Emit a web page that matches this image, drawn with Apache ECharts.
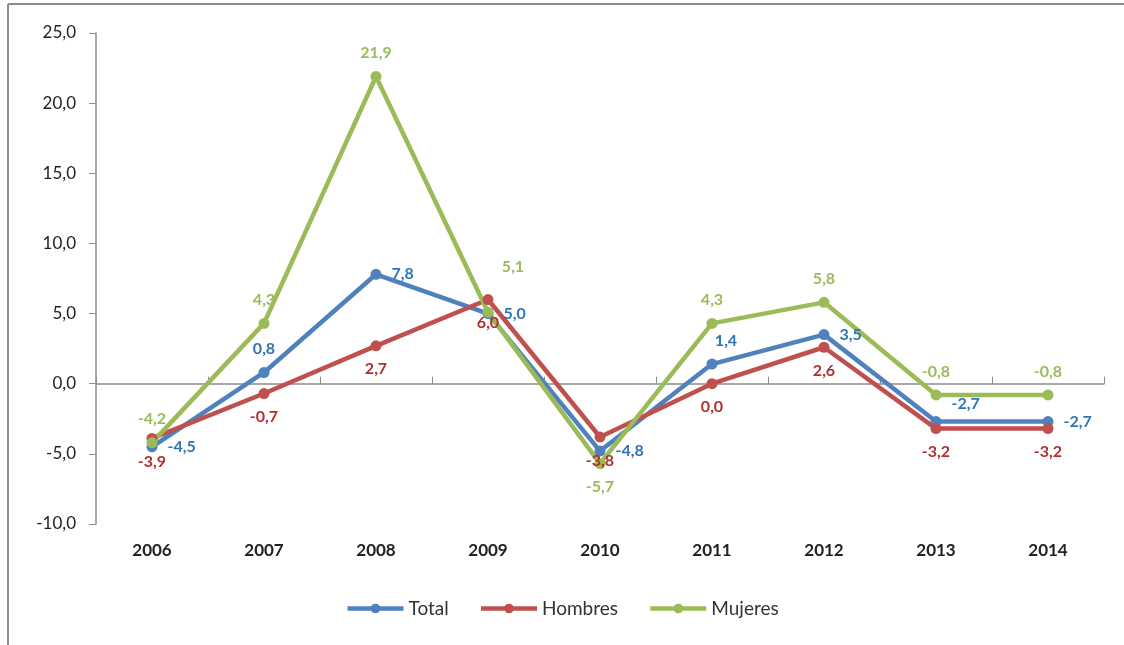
<!DOCTYPE html>
<html>
<head>
<meta charset="utf-8">
<script src="https://cdn.jsdelivr.net/npm/echarts@6/dist/echarts.min.js"></script>
<style>
  html, body { margin: 0; padding: 0; background: #fff; }
  #chart { width: 1124px; height: 645px; }
</style>
</head>
<body>
<div id="chart"></div>
<script>
// datos
var years = ['2006', '2007', '2008', '2009', '2010', '2011', '2012', '2013', '2014'];
var total = [-4.5, 0.8, 7.8, 5.0, -4.8, 1.4, 3.5, -2.7, -2.7];
var hombres = [-3.9, -0.7, 2.7, 6.0, -3.8, 0.0, 2.6, -3.2, -3.2];
var mujeres = [-4.2, 4.3, 21.9, 5.1, -5.7, 4.3, 5.8, -0.8, -0.8];

// posicion de cada etiqueta
var totalPos = ['right', 'top', 'right', 'right', 'right', 'top', 'right', 'right', 'right'];
var hombresPos = ['bottom', 'bottom', 'bottom', 'bottom', 'bottom', 'bottom', 'bottom', 'bottom', 'bottom'];
var mujeresPos = ['top', 'top', 'top', 'top', 'bottom', 'top', 'top', 'top', 'top'];

var font = 'Lato, "Open Sans", sans-serif';

function fmt(v) {
    return v.toFixed(1).replace('.', ',');
}

function buildData(values, pos, extra) {
    return values.map(function (v, i) {
        var item = { value: v, label: { position: pos[i] } };
        if (extra && extra[i]) item.label.offset = extra[i];
        return item;
    });
}

function makeSeries(name, values, pos, lineColor, labelColor, extra) {
    return {
        name: name,
        type: 'line',
        data: buildData(values, pos, extra),
        symbol: 'circle',
        symbolSize: 11,
        lineStyle: { width: 4.5, color: lineColor },
        itemStyle: { color: lineColor },
        label: {
            show: true,
            color: labelColor,
            fontFamily: font,
            fontWeight: 'bold',
            fontSize: 16,
            distance: 10,
            formatter: function (p) { return fmt(p.value); }
        }
    };
}

var chart = echarts.init(document.getElementById('chart'));
var option = {
    animation: false,
    backgroundColor: '#fff',
    graphic: [
        { type: 'line', shape: { x1: 8, y1: 4, x2: 1124, y2: 4 }, style: { stroke: '#8c8c8c', lineWidth: 2 } },
        { type: 'line', shape: { x1: 8, y1: 4, x2: 8, y2: 645 }, style: { stroke: '#8c8c8c', lineWidth: 2 } }
    ],
    grid: { left: 96, right: 20, top: 33, bottom: 121 },
    legend: {
        bottom: 22,
        left: 'center',
        itemWidth: 56,
        itemHeight: 12,
        itemGap: 30,
        lineStyle: { width: 4.5 },
        textStyle: { fontFamily: font, fontSize: 19, color: '#333' },
        data: ['Total', 'Hombres', 'Mujeres']
    },
    xAxis: [
        {
            type: 'category',
            data: years,
            position: 'bottom',
            axisLine: { show: false, onZero: false },
            axisTick: { show: false },
            axisLabel: { margin: 18, fontFamily: font, fontWeight: 'bold', fontSize: 17, color: '#222' }
        },
        {
            type: 'category',
            data: years,
            axisLine: { onZero: true, lineStyle: { color: '#8c8c8c', width: 1.5 } },
            axisTick: { show: true, length: 7, lineStyle: { color: '#8c8c8c' } },
            axisLabel: { show: false }
        }
    ],
    yAxis: {
        type: 'value',
        min: -10,
        max: 25,
        interval: 5,
        axisLine: { show: true, lineStyle: { color: '#8c8c8c', width: 1.5 } },
        axisTick: { show: true, length: 7, lineStyle: { color: '#8c8c8c' } },
        splitLine: { show: false },
        axisLabel: {
            margin: 20,
            fontFamily: font,
            fontSize: 17,
            color: '#222',
            formatter: function (v) { return fmt(v); }
        }
    },
    series: [
        makeSeries('Total', total, totalPos, '#4F81BD', '#2E75B6',
            { 5: [14, 0], 7: [0, -18] }),
        makeSeries('Hombres', hombres, hombresPos, '#C0504D', '#B0302C'),
        makeSeries('Mujeres', mujeres, mujeresPos, '#9BBB59', '#9BBB59',
            { 3: [25, -22] })
    ]
};
chart.setOption(option);
</script>
</body>
</html>
